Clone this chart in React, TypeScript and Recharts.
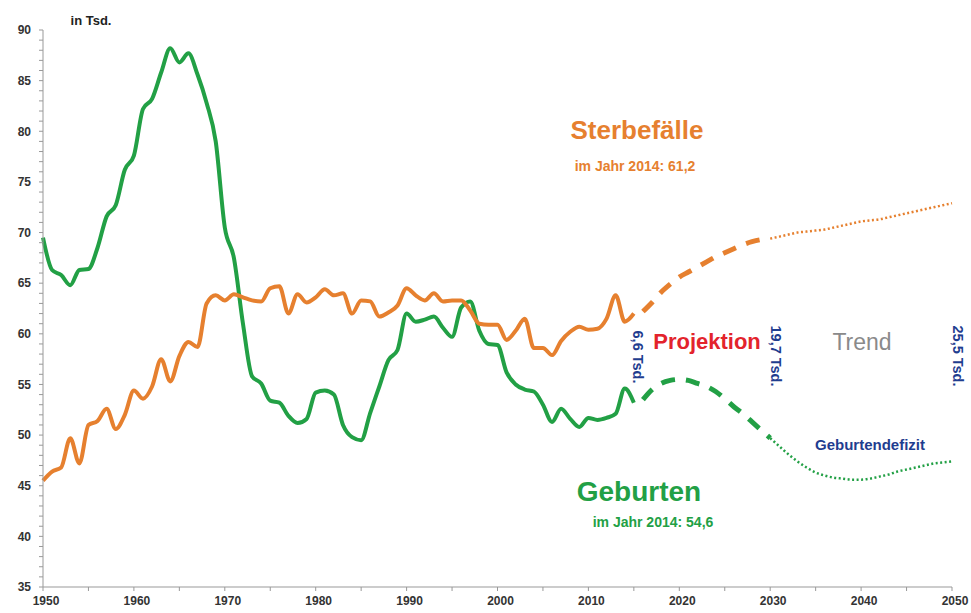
import React from 'react'
import { LineChart, Line, XAxis, YAxis } from 'recharts'

// Geburten / Sterbefälle in Tsd.
const FIRST_YEAR = 1950
const LAST_YEAR = 2050

// 1950–2015
const BIRTHS_HIST = [
    69.5, 66.3, 65.8, 64.8, 66.3, 66.4, 68.5, 71.6, 72.7, 76.2,
    77.6, 82.2, 83.2, 85.8, 88.2, 86.8, 87.7, 85.6, 82.8, 79.0,
    70.5, 67.5, 61.0, 55.8, 55.1, 53.4, 53.2, 51.9, 51.2, 51.6,
    54.2, 54.4, 54.0, 51.0, 49.8, 49.5, 52.2, 54.8, 57.4, 58.4,
    62.0, 61.2, 61.4, 61.7, 60.6, 59.7, 62.6, 63.2, 60.3, 59.0,
    58.9, 56.2, 55.0, 54.5, 54.3, 53.0, 51.3, 52.6, 51.6, 50.8,
    51.7, 51.5, 51.7, 52.1, 54.6, 53.2,
]
const DEATHS_HIST = [
    45.5, 46.4, 46.8, 49.7, 47.2, 51.0, 51.4, 52.6, 50.6, 52.0,
    54.4, 53.6, 54.8, 57.5, 55.3, 57.8, 59.2, 58.7, 63.0, 63.8,
    63.3, 63.9, 63.6, 63.3, 63.2, 64.5, 64.7, 62.0, 63.9, 63.1,
    63.6, 64.4, 63.8, 64.0, 62.0, 63.3, 63.2, 61.7, 62.1, 62.8,
    64.5, 63.8, 63.3, 64.0, 63.2, 63.3, 63.3, 62.3, 61.0, 60.9,
    60.9, 59.4, 60.3, 61.5, 58.6, 58.6, 57.9, 59.3, 60.2, 60.7,
    60.4, 60.5, 61.5, 63.8, 61.2, 62.0,
]

// Projektion 2016–2030
const PROJ_START = 2016
const BIRTHS_PROJ = [53.5, 54.5, 55.1, 55.4, 55.5, 55.4, 55.1, 54.8, 54.3, 53.6, 52.8, 52.1, 51.3, 50.5, 49.7]
const DEATHS_PROJ = [62.2, 63.1, 64.1, 64.9, 65.6, 66.1, 66.6, 67.1, 67.6, 68.0, 68.4, 68.8, 69.1, 69.3, 69.4]

// Trend 2030–2050
const TREND_START = 2030
const BIRTHS_TREND = [
    49.7, 48.9, 48.1, 47.4, 46.8, 46.3, 46.0, 45.8, 45.7, 45.6, 45.6,
    45.7, 45.9, 46.1, 46.4, 46.6, 46.8, 47.0, 47.2, 47.3, 47.4,
]
const DEATHS_TREND = [
    69.4, 69.6, 69.8, 70.0, 70.1, 70.2, 70.3, 70.5, 70.7, 70.9, 71.1,
    71.2, 71.3, 71.5, 71.7, 71.9, 72.1, 72.3, 72.5, 72.7, 72.9,
]

const X_TICKS = Array.from({ length: 21 }, (_, i) => FIRST_YEAR + i * 5)
const Y_TICKS = Array.from({ length: 56 }, (_, i) => 35 + i)

const GREEN = '#22a045'
const ORANGE = '#e6802f'
const BLUE = '#1f3d8f'

const pick = (arr: number[], start: number, year: number) => {
    const i = year - start
    return i >= 0 && i < arr.length ? arr[i] : null
}

const data = Array.from({ length: LAST_YEAR - FIRST_YEAR + 1 }, (_, i) => {
    const year = FIRST_YEAR + i
    return {
        year,
        birthsHist: pick(BIRTHS_HIST, FIRST_YEAR, year),
        deathsHist: pick(DEATHS_HIST, FIRST_YEAR, year),
        birthsProj: pick(BIRTHS_PROJ, PROJ_START, year),
        deathsProj: pick(DEATHS_PROJ, PROJ_START, year),
        birthsTrend: pick(BIRTHS_TREND, TREND_START, year),
        deathsTrend: pick(DEATHS_TREND, TREND_START, year),
    }
})

const tickStyle = { fill: '#333', fontSize: 12, fontWeight: 700 }

function Note({ x, y, children, style, rotate }: any) {
    return (
        <div
            style={{
                position: 'absolute',
                left: x,
                top: y,
                transform: `translate(-50%, -50%)${rotate ? ' rotate(90deg)' : ''}`,
                whiteSpace: 'nowrap',
                ...style,
            }}
        >
            {children}
        </div>
    )
}

export default function App() {
    return (
        <div
            style={{
                position: 'absolute',
                left: 0,
                top: 0,
                width: 971,
                height: 613,
                background: '#fff',
                fontFamily: '"Liberation Sans", Arial, sans-serif',
            }}
        >
            <LineChart width={971} height={613} data={data} margin={{ top: 30, right: 19, bottom: 0, left: 0 }}>
                <XAxis
                    dataKey="year"
                    type="number"
                    domain={[FIRST_YEAR, LAST_YEAR]}
                    ticks={X_TICKS}
                    interval={0}
                    tickFormatter={(v) => (v % 10 === 0 ? String(v) : '')}
                    tick={{ ...tickStyle, dy: 3, dx: 3 }}
                    tickSize={4}
                    height={26}
                    stroke="#999"
                />
                <YAxis
                    type="number"
                    domain={[35, 90]}
                    ticks={Y_TICKS}
                    interval={0}
                    tickFormatter={(v) => (v % 5 === 0 ? String(v) : '')}
                    tick={{ ...tickStyle, dx: -6 }}
                    tickSize={4}
                    width={43}
                    stroke="#999"
                />
                <Line dataKey="birthsHist" type="monotone" stroke={GREEN} strokeWidth={4} dot={false} isAnimationActive={false} />
                <Line dataKey="deathsHist" type="monotone" stroke={ORANGE} strokeWidth={4} dot={false} isAnimationActive={false} />
                <Line dataKey="birthsProj" type="monotone" stroke={GREEN} strokeWidth={5} strokeDasharray="14 11" dot={false} isAnimationActive={false} />
                <Line dataKey="deathsProj" type="monotone" stroke={ORANGE} strokeWidth={5} strokeDasharray="14 11" dot={false} isAnimationActive={false} />
                <Line dataKey="birthsTrend" type="monotone" stroke={GREEN} strokeWidth={2.5} strokeDasharray="2 2.5" dot={false} isAnimationActive={false} />
                <Line dataKey="deathsTrend" type="monotone" stroke={ORANGE} strokeWidth={2.5} strokeDasharray="2 2.5" dot={false} isAnimationActive={false} />
            </LineChart>

            <Note x={91} y={20} style={{ fontSize: 13, fontWeight: 700, color: '#222' }}>in Tsd.</Note>
            <Note x={637} y={130} style={{ fontSize: 26, fontWeight: 700, color: ORANGE }}>Sterbefälle</Note>
            <Note x={635} y={166} style={{ fontSize: 14, fontWeight: 700, color: ORANGE }}>im Jahr 2014: 61,2</Note>
            <Note x={707} y={342} style={{ fontSize: 22, fontWeight: 700, color: '#e3232c' }}>Projektion</Note>
            <Note x={862} y={342} style={{ fontSize: 23, color: '#8a8a8a' }}>Trend</Note>
            <Note x={638} y={357} rotate style={{ fontSize: 14.5, fontWeight: 700, color: BLUE }}>6,6 Tsd.</Note>
            <Note x={776} y={356} rotate style={{ fontSize: 14.5, fontWeight: 700, color: BLUE }}>19,7 Tsd.</Note>
            <Note x={958} y={356} rotate style={{ fontSize: 14.5, fontWeight: 700, color: BLUE }}>25,5 Tsd.</Note>
            <Note x={870} y={444} style={{ fontSize: 15, fontWeight: 700, color: BLUE }}>Geburtendefizit</Note>
            <Note x={639} y={492} style={{ fontSize: 28, fontWeight: 700, color: GREEN }}>Geburten</Note>
            <Note x={653} y={522} style={{ fontSize: 14, fontWeight: 700, color: GREEN }}>im Jahr 2014: 54,6</Note>
        </div>
    )
}
